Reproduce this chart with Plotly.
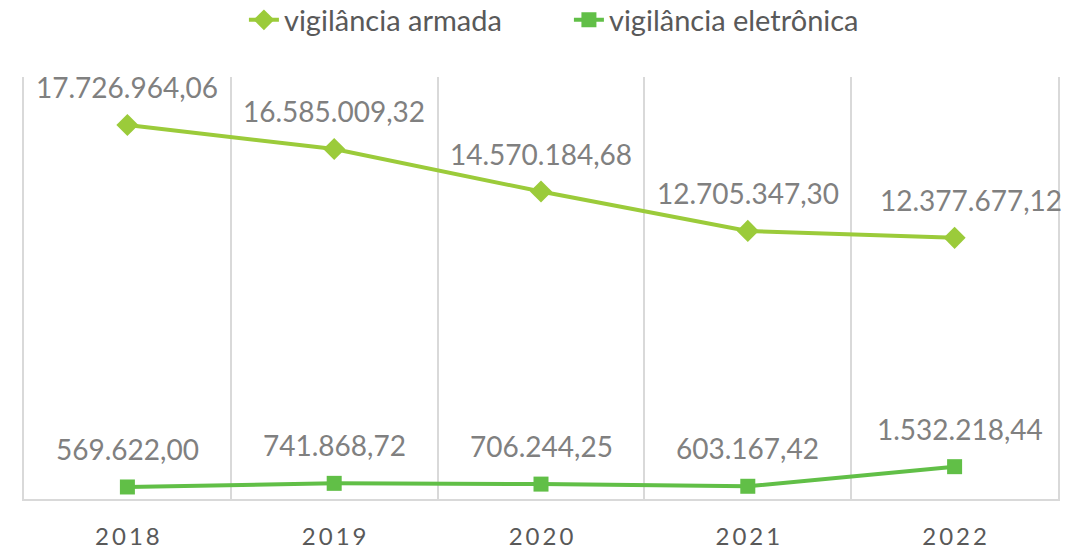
import plotly.graph_objects as go

years = ["2018", "2019", "2020", "2021", "2022"]
armada = [17726964.06, 16585009.32, 14570184.68, 12705347.30, 12377677.12]
eletronica = [569622.00, 741868.72, 706244.25, 603167.42, 1532218.44]
name_armada = "vigilância armada"
name_eletronica = "vigilância eletrônica"

FONT = "Lato"
C_ARM = "#9BCB3A"
C_ELE = "#61BF47"


def br(v):
    s = f"{v:,.2f}"
    return s.replace(",", "X").replace(".", ",").replace("X", ".")


tick_text = ["\u2009".join(list(y)) for y in years]

fig = go.Figure()
fig.add_trace(go.Scatter(
    x=years, y=armada, name=name_armada, mode="lines+markers",
    line=dict(color=C_ARM, width=4),
    marker=dict(symbol="diamond", size=17, color=C_ARM),
))
fig.add_trace(go.Scatter(
    x=years, y=eletronica, name=name_eletronica, mode="lines+markers",
    line=dict(color=C_ELE, width=4),
    marker=dict(symbol="square", size=15, color=C_ELE),
))

annotations = []
for series, shifts in ((armada, [0, 0, 0, 0, 16]), (eletronica, [0, 0, 0, 0, 5])):
    for i, (v, xs) in enumerate(zip(series, shifts)):
        annotations.append(dict(
            x=i, y=v, xref="x", yref="y", text=br(v), showarrow=False,
            yanchor="middle", xanchor="center", yshift=38, xshift=xs,
            font=dict(family=FONT, size=28, color="#808080"),
        ))

fig.update_layout(
    width=1083, height=550,
    margin=dict(l=24, r=25, t=77, b=51, autoexpand=False),
    paper_bgcolor="white", plot_bgcolor="white",
    showlegend=True,
    legend=dict(
        orientation="h", x=0.527, xanchor="center", y=1 - 20 / 550, yref="container",
        yanchor="middle", font=dict(family=FONT, size=29, color="#595959"),
        entrywidth=280, entrywidthmode="pixels",
    ),
    font=dict(family=FONT, color="#595959"),
    annotations=annotations,
)
fig.update_xaxes(
    type="category", tickson="boundaries",
    tickvals=years, ticktext=tick_text,
    showgrid=True, gridcolor="#D9D9D9", gridwidth=1.5,
    showline=True, linecolor="#D9D9D9", linewidth=1.5,
    ticks="", ticklabelstandoff=15, automargin=False,
    tickfont=dict(family=FONT, size=24, color="#595959"),
    range=[-0.5, 4.5],
)
fig.update_yaxes(
    range=[0, 20000000], showticklabels=False, showgrid=False, zeroline=False,
    showline=True, mirror=True, linecolor="#D9D9D9", linewidth=1.5, ticks="",
    automargin=False,
)

fig.write_html(
    "out.html",
    config={"displayModeBar": False},
    post_script="document.body.style.margin='0';document.body.style.overflow='hidden';",
)
